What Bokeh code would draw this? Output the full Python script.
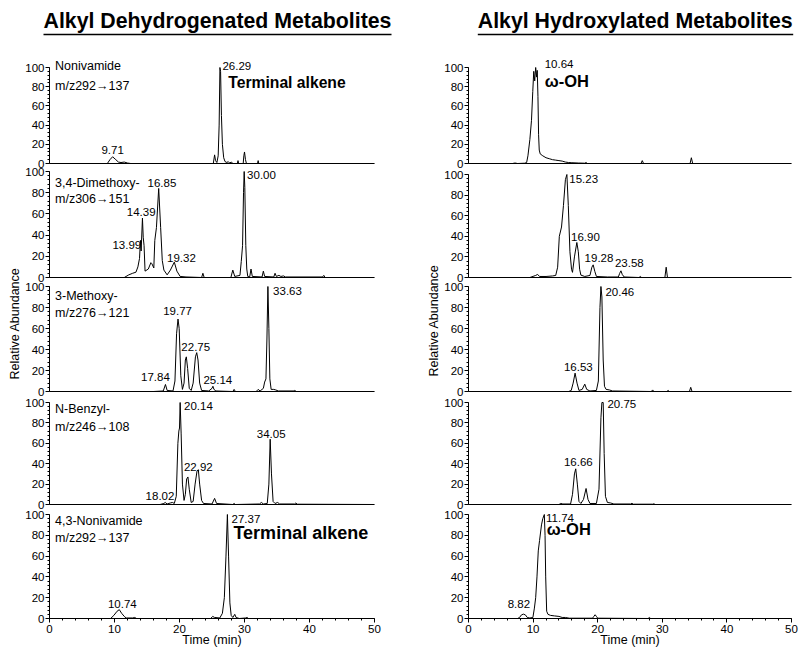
import math
from bokeh.plotting import figure
from bokeh.layouts import row, column
from bokeh.models import Range1d, SingleIntervalTicker, FixedTicker
from bokeh.core.properties import value
from bokeh.embed import file_html
from bokeh.resources import INLINE

FONT = "Liberation Sans"

# ---------------- text ----------------
col_titles = ["Alkyl Dehydrogenated Metabolites", "Alkyl Hydroxylated Metabolites"]
x_label = "Time (min)"
y_label = "Relative Abundance"
x_ticks_step = 10
y_ticks_step = 20

compound_names = [
    ["Nonivamide", "m/z292\u2192137"],
    ["3,4-Dimethoxy-", "m/z306\u2192151"],
    ["3-Methoxy-", "m/z276\u2192121"],
    ["N-Benzyl-", "m/z246\u2192108"],
    ["4,3-Nonivamide", "m/z292\u2192137"],
]
compound_name_y = [[102, 81], [89, 74], [91, 74.6], [94, 76], [94, 77]]

# ---------------- chromatogram traces (time min, relative abundance) ----------------
# Alkyl dehydrogenated metabolites
dh1_points = [(0, 0), (8.9, 0), (9.3, 4), (9.71, 7), (10.2, 4), (10.6, 1.5), (11.0, 1), (11.5, 1.5), (12.0, 0.5),
              (12.5, 0), (25.2, 0), (25.4, 9), (25.55, 3), (25.75, 1), (25.95, 8), (26.1, 40), (26.22, 100),
              (26.32, 96), (26.45, 50), (26.6, 20), (26.8, 6), (27.0, 2), (27.3, 1), (27.5, 2), (27.7, 0.5),
              (28.0, 1.5), (28.2, 0), (28.9, 0), (29.0, 3), (29.1, 0), (29.8, 0), (29.9, 8), (30.0, 12),
              (30.15, 4), (30.3, 0), (32.0, 0), (32.1, 3), (32.2, 0), (50, 0)]
dh2_points = [(0, 0), (11.5, 0), (12.2, 2.5), (12.8, 4), (13.3, 5), (13.6, 10), (13.85, 18), (13.99, 35),
              (14.1, 25), (14.3, 56), (14.42, 38), (14.55, 30), (14.7, 6), (15.2, 8), (15.6, 14), (15.75, 13),
              (16.05, 9), (16.2, 35), (16.45, 47), (16.8, 84), (17.1, 47), (17.35, 16), (17.6, 7), (18.1, 2.5),
              (18.6, 7), (19.2, 14.5), (19.6, 6), (20.1, 1), (21.0, 0.5), (23.4, 0), (23.6, 4), (23.8, 0),
              (27.9, 0), (28.2, 7), (28.5, 1), (29.3, 2), (29.5, 15), (29.7, 30), (29.85, 80), (29.95, 100),
              (30.05, 85), (30.2, 30), (30.35, 8), (30.5, 1), (30.8, 0.5), (31.0, 8), (31.2, 1), (32.7, 0.5),
              (32.9, 6), (33.1, 1), (34.5, 0.5), (34.7, 4), (34.9, 1), (35.3, 2), (35.6, 1), (36.0, 1.5),
              (36.3, 0.5), (42.0, 0.5), (42.2, 2), (42.4, 0), (50, 0)]
dh3_points = [(0, 0), (16.0, 0), (17.5, 0.5), (17.84, 6.7), (18.1, 1), (19.0, 0.5), (19.3, 10), (19.55, 55),
              (19.77, 69), (19.95, 60), (20.2, 15), (20.45, 2), (20.7, 8), (20.9, 30), (21.05, 33), (21.25, 22),
              (21.5, 3), (21.8, 1), (22.1, 8), (22.45, 33), (22.65, 37), (22.85, 30), (23.1, 8), (23.4, 1),
              (24.5, 0.5), (25.0, 3), (25.14, 5), (25.3, 2), (25.6, 0.5), (28.2, 0), (28.4, 2), (28.6, 0),
              (31.8, 0), (32.1, 2), (32.4, 0.5), (32.9, 3), (33.1, 9), (33.3, 12), (33.45, 50), (33.6, 100),
              (33.75, 60), (33.9, 12), (34.1, 2), (34.5, 2), (34.8, 1.5), (35.2, 0.5), (37.5, 0.5), (37.7, 1),
              (38.0, 0), (50, 0)]
dh4_points = [(0, 0), (17.0, 0), (17.6, 1), (17.8, 2), (18.1, 0.5), (18.6, 1.5), (18.9, 2), (19.2, 1), (19.5, 8),
              (19.75, 60), (19.9, 72), (20.0, 75), (20.1, 100), (20.25, 70), (20.45, 20), (20.7, 4), (20.9, 10),
              (21.1, 25), (21.3, 27), (21.5, 15), (21.8, 2), (22.1, 3), (22.4, 20), (22.7, 33), (22.9, 34),
              (23.1, 20), (23.4, 4), (23.7, 1), (25.0, 0.5), (25.4, 6), (25.7, 1), (28.2, 0), (28.4, 1),
              (28.6, 0), (32.3, 0.5), (32.6, 2), (32.9, 0.5), (33.5, 1), (33.75, 20), (33.95, 64), (34.15, 30),
              (34.4, 3), (34.7, 1), (35.1, 2), (35.4, 0.5), (37.7, 0.5), (37.9, 1.5), (38.1, 0.3), (50, 0)]
dh5_points = [(0, 0), (9.4, 0), (9.9, 3), (10.4, 7), (10.74, 8.5), (11.1, 5), (11.5, 2), (11.8, 0.5), (12.8, 0.5),
              (13.1, 1), (13.4, 0), (24.8, 0), (25.1, 2), (25.4, 1), (26.2, 0.5), (26.6, 5), (26.9, 20),
              (27.15, 60), (27.37, 100), (27.55, 60), (27.75, 15), (27.95, 3), (28.2, 1), (28.5, 4), (28.7, 1),
              (29.2, 0), (30.2, 0.5), (30.4, 1), (30.6, 0), (50, 0)]

# Alkyl hydroxylated metabolites
oh1_points = [(0, 0), (6.8, 0), (7.2, 0.5), (7.6, 0), (8.7, 0.3), (9.0, 1), (9.2, 8), (9.5, 25), (9.75, 45),
              (9.95, 75), (10.1, 96), (10.25, 86), (10.4, 100), (10.55, 90), (10.64, 97), (10.75, 70),
              (10.85, 30), (10.95, 14), (11.1, 10), (11.5, 8), (12.0, 6), (12.5, 5), (13.0, 4), (13.5, 3.5),
              (14.0, 3), (14.5, 2.5), (15.0, 1.5), (15.5, 1), (16.0, 0.8), (17.0, 0.5), (18.0, 0.3), (18.2, 1),
              (18.4, 0), (26.7, 0), (26.9, 3), (27.1, 0), (34.3, 0), (34.5, 6), (34.7, 0), (50, 0)]
oh2_points = [(0, 0), (9.5, 0), (10.4, 2), (10.7, 3), (11.0, 1), (12.0, 1), (13.0, 1.5), (13.5, 2), (13.8, 10),
              (14.06, 40), (14.4, 49), (14.7, 70), (15.0, 95), (15.23, 100), (15.45, 70), (15.7, 25),
              (15.95, 8), (16.1, 5), (16.4, 20), (16.77, 34), (17.0, 25), (17.2, 8), (17.4, 2.3), (18.0, 1),
              (18.8, 2), (19.1, 10), (19.3, 12.3), (19.55, 6), (19.8, 1), (21.5, 0.5), (23.2, 0.5), (23.4, 4),
              (23.6, 6.5), (23.8, 3), (24.1, 0.5), (26.4, 0), (26.6, 1), (26.8, 0), (30.4, 0), (30.6, 10),
              (30.8, 0), (50, 0)]
oh3_points = [(0, 0), (15.5, 0), (15.9, 1), (16.2, 8), (16.5, 17.5), (16.8, 8), (17.1, 1), (17.6, 2), (18.0, 7),
              (18.3, 2), (18.8, 0.5), (19.8, 1), (20.1, 10), (20.35, 80), (20.5, 100), (20.65, 90), (20.85, 30),
              (21.05, 5), (21.3, 2), (21.8, 1.5), (22.3, 0.5), (28.3, 0), (28.5, 1.5), (28.7, 0), (30.7, 0),
              (30.9, 1), (31.1, 0), (34.2, 0), (34.4, 4), (34.6, 0), (50, 0)]
oh4_points = [(0, 0), (14.0, 0), (14.3, 1), (14.6, 0.5), (15.8, 0.5), (16.1, 10), (16.4, 30), (16.6, 35),
              (16.85, 20), (17.1, 3), (17.4, 1), (17.8, 5), (18.2, 15.7), (18.5, 5), (18.8, 1), (19.8, 1),
              (20.2, 15), (20.5, 85), (20.65, 100), (20.85, 100), (21.0, 50), (21.2, 8), (21.5, 2), (22.0, 1.5),
              (22.5, 0.5), (25.1, 0.5), (25.3, 1.2), (25.5, 0.3), (28.5, 0.3), (28.7, 0.7), (28.9, 0), (50, 0)]
oh5_points = [(0, 0), (7.6, 0), (7.9, 1), (8.2, 3.5), (8.5, 4.2), (8.8, 3.5), (9.1, 1), (9.5, 0.5), (9.97, 1),
              (10.2, 10), (10.4, 20), (10.6, 40), (10.8, 65), (11.0, 75), (11.3, 90), (11.5, 96), (11.74, 100),
              (11.85, 80), (11.95, 40), (12.1, 7), (12.3, 4), (12.7, 3), (13.3, 2.5), (14.0, 2), (14.5, 1),
              (15.0, 1), (15.6, 0.3), (19.2, 0.3), (19.4, 2), (19.6, 3.6), (19.8, 2), (20.0, 0.3), (27.8, 0),
              (28.0, 1), (28.2, 0), (50, 0)]

# ---------------- peak labels: (text, time anchor, abundance anchor, alignment) ----------------
dh_peak_labels = [
    [("9.71", 9.71, 14.3, "center"), ("26.29", 26.6, 102, "left")],
    [("16.85", 17.3, 89, "center"), ("14.39", 14.1, 62, "center"), ("13.99", 11.9, 31, "center"),
     ("19.32", 20.3, 18.3, "center"), ("30.00", 30.4, 97, "left")],
    [("19.77", 19.7, 76.5, "center"), ("22.75", 22.5, 42, "center"), ("17.84", 16.3, 13.6, "center"),
     ("25.14", 25.9, 10.5, "center"), ("33.63", 34.4, 95.5, "left")],
    [("20.14", 20.7, 97, "left"), ("34.05", 34.1, 69, "center"), ("22.92", 22.9, 37, "center"),
     ("18.02", 17.0, 8.8, "center")],
    [("27.37", 28.0, 96, "left"), ("10.74", 11.2, 14, "center")],
]
oh_peak_labels = [
    [("10.64", 11.8, 104, "left")],
    [("15.23", 15.6, 95.5, "left"), ("16.90", 18.1, 39.5, "center"), ("19.28", 20.2, 18.8, "center"),
     ("23.58", 24.9, 13.6, "center")],
    [("20.46", 21.2, 95, "left"), ("16.53", 17.0, 22.9, "center")],
    [("20.75", 21.5, 99, "left"), ("16.66", 17.0, 41.8, "center")],
    [("11.74", 12.0, 97, "left"), ("8.82", 7.8, 13.8, "center")],
]
dh_bold_labels = {0: ("Terminal alkene", 27.5, 84, "15.7px"), 4: ("Terminal alkene", 28.3, 82, "18px")}
oh_bold_labels = {0: ("\u03c9-OH", 11.8, 86, "16.5px"), 4: ("\u03c9-OH", 12.1, 86, "16.5px")}

dh_traces = [dh1_points, dh2_points, dh3_points, dh4_points, dh5_points]
oh_traces = [oh1_points, oh2_points, oh3_points, oh4_points, oh5_points]

# ---------------- layout geometry (page pixels; the page has no body margin) ----------------
HEADER_H = 50
FIG_TOPS = [50, 167, 281, 395, 508, 652]
FRAME_TOPS = [55, 167, 281, 395, 508]
ZEROS = [163, 277, 391, 504, 618]
K_LEFT = [0.96, 1.06, 1.05, 1.02, 1.04]
K_RIGHT = [0.96, 1.03, 1.05, 1.02, 1.04]
PANELS_H = FIG_TOPS[-1] - FIG_TOPS[0]
OVERLAP = 7   # panels overlap their neighbours (transparent fills) so tick labels are never clipped


def make_panel(pts, idx, fig_w, bl, br, k, names, name_y, peaks, bold):
    t = [a for a, b in pts]
    y = [b for a, b in pts]
    ext_top = OVERLAP if idx > 0 else 0
    ext_bot = OVERLAP if idx < 4 else 0
    height = FIG_TOPS[idx + 1] - FIG_TOPS[idx] + ext_top + ext_bot
    bt = FRAME_TOPS[idx] - FIG_TOPS[idx] + ext_top
    bb = FIG_TOPS[idx + 1] - ZEROS[idx] + ext_bot
    ymax = (ZEROS[idx] - FRAME_TOPS[idx]) / k
    is_bottom = idx == 4
    p = figure(width=fig_w, height=height, x_range=Range1d(0, 50), y_range=Range1d(0, ymax),
               title=None, toolbar_location=None, output_backend="svg",
               min_border_left=bl, min_border_right=br, min_border_top=bt, min_border_bottom=bb,
               margin=(-ext_top, 0, -ext_bot, 0))
    p.outline_line_color = None
    p.grid.visible = False
    p.background_fill_color = None
    p.border_fill_color = None

    ya = p.yaxis[0]
    ya.ticker = SingleIntervalTicker(interval=y_ticks_step, num_minor_ticks=5)
    ya.bounds = (0, 100)
    ya.major_tick_out = 4
    ya.major_tick_in = 0
    ya.minor_tick_out = 2
    ya.minor_tick_in = 0
    ya.major_label_standoff = 1
    ya.major_label_text_font = FONT
    ya.major_label_text_font_size = "11.5px"
    ya.major_label_text_color = "black"
    ya.axis_line_color = "black"
    ya.major_tick_line_color = "black"
    ya.minor_tick_line_color = "black"

    xa = p.xaxis[0]
    xa.bounds = (0, 50)
    xa.axis_line_color = "black"
    if is_bottom:
        xa.ticker = SingleIntervalTicker(interval=x_ticks_step, num_minor_ticks=5)
        xa.major_tick_out = 4
        xa.major_tick_in = 0
        xa.minor_tick_out = 2
        xa.minor_tick_in = 0
        xa.major_label_standoff = 2
        xa.major_label_text_font = FONT
        xa.major_label_text_font_size = "11.5px"
        xa.major_label_text_color = "black"
        xa.major_tick_line_color = "black"
        xa.minor_tick_line_color = "black"
        xa.axis_label = x_label
        xa.axis_label_text_font = FONT
        xa.axis_label_text_font_size = "12.5px"
        xa.axis_label_text_font_style = "normal"
        xa.axis_label_text_color = "black"
        xa.axis_label_standoff = -3
    else:
        xa.ticker = FixedTicker(ticks=[])
        xa.major_tick_out = 0
        xa.major_tick_in = 0
        xa.minor_tick_out = 0
        xa.minor_tick_in = 0
        xa.major_label_standoff = 0
        xa.major_label_text_font_size = "0px"

    p.line(t, y, line_color="black", line_width=1)

    if names is not None:
        p.text(x=[0.85, 0.85], y=name_y, text=names, text_font=value(FONT), text_font_size="12.5px",
               text_align="left", text_baseline="middle", text_color="black")
    for align in ("left", "center"):
        sel = [pk for pk in peaks if pk[3] == align]
        if sel:
            p.text(x=[s[1] for s in sel], y=[s[2] for s in sel], text=[s[0] for s in sel],
                   text_font=value(FONT), text_font_size="11.5px", text_align=align,
                   text_baseline="middle", text_color="black")
    if bold is not None:
        p.text(x=[bold[1]], y=[bold[2]], text=[bold[0]], text_font=value(FONT), text_font_size=bold[3],
               text_font_style="bold", text_align="left", text_baseline="middle", text_color="black")
    return p


def make_header(title, w, tx, ux1):
    h = figure(width=w, height=HEADER_H, x_range=Range1d(0, w), y_range=Range1d(HEADER_H, 0), title=None,
               toolbar_location=None, output_backend="svg", x_axis_type=None, y_axis_type=None,
               min_border=0)
    h.outline_line_color = None
    h.grid.visible = False
    h.background_fill_color = None
    h.border_fill_color = None
    h.text(x=[tx], y=[20.5], text=[title], text_font=value(FONT), text_font_size="21.3px",
           text_font_style="bold", text_align="left", text_baseline="middle", text_color="black")
    h.line(x=[tx, ux1], y=[34, 34], line_color="black", line_width=1.6)
    return h


def make_ylabel(w, cx, cy):
    f = figure(width=w, height=PANELS_H, x_range=Range1d(0, w), y_range=Range1d(PANELS_H, 0), title=None,
               toolbar_location=None, output_backend="svg", x_axis_type=None, y_axis_type=None,
               min_border=0)
    f.outline_line_color = None
    f.grid.visible = False
    f.background_fill_color = None
    f.border_fill_color = None
    f.text(x=[cx], y=[cy], text=[y_label], angle=math.pi / 2, text_font=value(FONT),
           text_font_size="12.5px", text_align="center", text_baseline="middle", text_color="black")
    return f


left_panels = [make_panel(dh_traces[i], i, 378, 25, 26, K_LEFT[i], compound_names[i], compound_name_y[i],
                          dh_peak_labels[i], dh_bold_labels.get(i)) for i in range(5)]
right_panels = [make_panel(oh_traces[i], i, 359, 24, 9, K_RIGHT[i], None, None,
                           oh_peak_labels[i], oh_bold_labels.get(i)) for i in range(5)]

left_block = column(make_header(col_titles[0], 400, 43, 391),
                    row(make_ylabel(22, 14.5, 323 - FIG_TOPS[0]), column(*left_panels, spacing=0), spacing=0),
                    spacing=0)
right_block = column(make_header(col_titles[1], 400, 77.3, 392.7),
                     row(make_ylabel(41, 33.5, 320 - FIG_TOPS[0]), column(*right_panels, spacing=0), spacing=0),
                     spacing=0)
layout = row(left_block, right_block, spacing=0)

open("out.html", "w").write(file_html(layout, INLINE))
